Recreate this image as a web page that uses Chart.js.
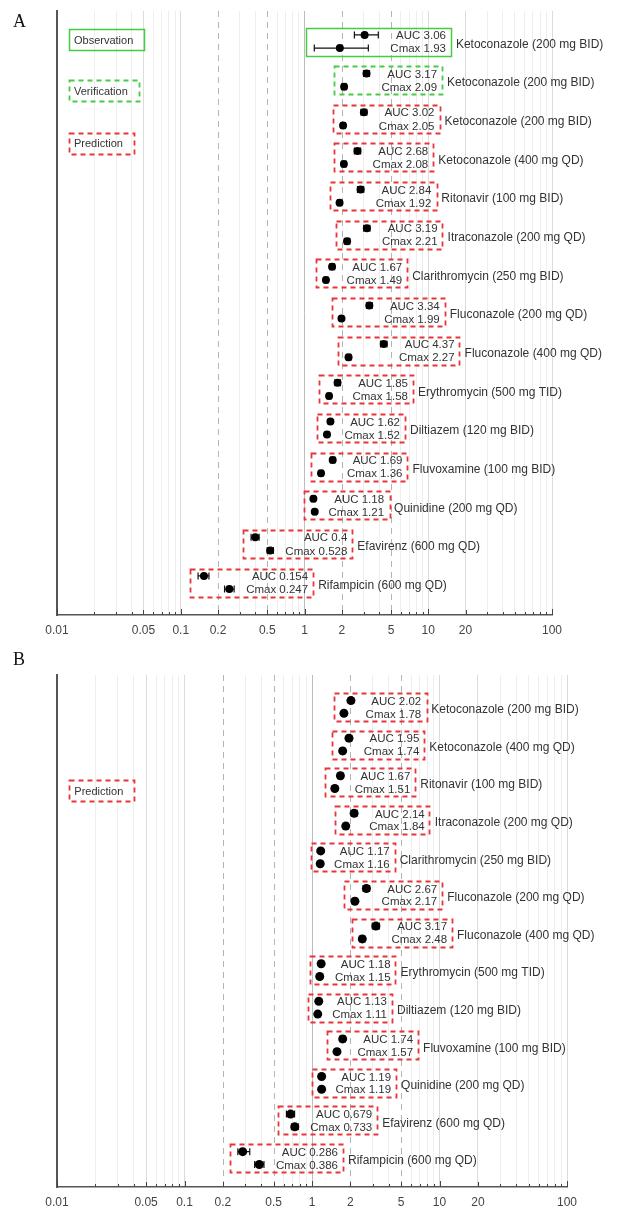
<!DOCTYPE html>
<html><head><meta charset="utf-8">
<script src="https://cdn.jsdelivr.net/npm/chart.js@4.4.0/dist/chart.umd.min.js"></script>
<style>
html,body{margin:0;padding:0;background:#fff;}
#wrap{position:relative;width:624px;height:1210px;background:#fff;}
#cA{position:absolute;left:0;top:0;}
#cB{position:absolute;left:0;top:640px;}
</style></head><body>
<div id="wrap"><canvas id="cA" width="624" height="640"></canvas><canvas id="cB" width="624" height="570"></canvas></div>
<script>
// ---------- Panel A data ----------
const drugsA = ['Ketoconazole (200 mg BID)','Ketoconazole (200 mg BID)','Ketoconazole (200 mg BID)','Ketoconazole (400 mg QD)','Ritonavir (100 mg BID)','Itraconazole (200 mg QD)','Clarithromycin (250 mg BID)','Fluconazole (200 mg QD)','Fluconazole (400 mg QD)','Erythromycin (500 mg TID)','Diltiazem (120 mg BID)','Fluvoxamine (100 mg BID)','Quinidine (200 mg QD)','Efavirenz (600 mg QD)','Rifampicin (600 mg QD)'];
const roleA = ['obs','ver','pred','pred','pred','pred','pred','pred','pred','pred','pred','pred','pred','pred','pred'];
const aucA    = [3.06, 3.17, 3.02, 2.68, 2.84, 3.19, 1.67, 3.34, 4.37, 1.85, 1.62, 1.69, 1.18, 0.4, 0.154];
const aucLoA  = [2.53, 3.00, 2.86, 2.53, 2.68, 3.01, 1.60, 3.17, 4.12, 1.76, 1.56, 1.62, 1.14, 0.37, 0.138];
const aucHiA  = [3.95, 3.35, 3.19, 2.84, 3.01, 3.38, 1.75, 3.52, 4.64, 1.95, 1.68, 1.76, 1.22, 0.43, 0.169];
const cmaxA   = [1.93, 2.09, 2.05, 2.08, 1.92, 2.21, 1.49, 1.99, 2.27, 1.58, 1.52, 1.36, 1.21, 0.528, 0.247];
const cmaxLoA = [1.20, 2.00, 1.97, 2.00, 1.85, 2.10, 1.44, 1.92, 2.18, 1.52, 1.47, 1.31, 1.17, 0.50, 0.226];
const cmaxHiA = [3.28, 2.18, 2.14, 2.17, 2.00, 2.32, 1.55, 2.06, 2.37, 1.64, 1.57, 1.41, 1.25, 0.56, 0.270];

// ---------- Panel B data ----------
const drugsB = ['Ketoconazole (200 mg BID)','Ketoconazole (400 mg QD)','Ritonavir (100 mg BID)','Itraconazole (200 mg QD)','Clarithromycin (250 mg BID)','Fluconazole (200 mg QD)','Fluconazole (400 mg QD)','Erythromycin (500 mg TID)','Diltiazem (120 mg BID)','Fluvoxamine (100 mg BID)','Quinidine (200 mg QD)','Efavirenz (600 mg QD)','Rifampicin (600 mg QD)'];
const roleB = ['pred','pred','pred','pred','pred','pred','pred','pred','pred','pred','pred','pred','pred'];
const aucB    = [2.02, 1.95, 1.67, 2.14, 1.17, 2.67, 3.17, 1.18, 1.13, 1.74, 1.19, 0.679, 0.286];
const aucLoB  = [1.93, 1.86, 1.60, 2.03, 1.14, 2.52, 2.97, 1.14, 1.10, 1.66, 1.15, 0.63, 0.262];
const aucHiB  = [2.12, 2.05, 1.74, 2.26, 1.20, 2.83, 3.38, 1.22, 1.16, 1.83, 1.23, 0.73, 0.325];
const cmaxB   = [1.78, 1.74, 1.51, 1.84, 1.16, 2.17, 2.48, 1.15, 1.11, 1.57, 1.19, 0.733, 0.386];
const cmaxLoB = [1.71, 1.67, 1.46, 1.76, 1.13, 2.07, 2.36, 1.12, 1.08, 1.51, 1.15, 0.69, 0.355];
const cmaxHiB = [1.85, 1.81, 1.56, 1.92, 1.19, 2.27, 2.60, 1.18, 1.14, 1.63, 1.23, 0.78, 0.420];

// ---------- axis ----------
const tickLabels = [0.01, 0.05, 0.1, 0.2, 0.5, 1, 2, 5, 10, 20, 100];
const refLines = [0.2, 0.5, 2, 5];
const decades = [0.01, 0.1, 1, 10];
const tickValues = [];
decades.forEach(d => { for (let m = 1; m <= 9; m++) tickValues.push(+(m * d).toPrecision(3)); });
tickValues.push(100);

// legend annotations: [text, role]
const legendA = [['Observation','obs'],['Verification','ver'],['Prediction','pred']];
const legendB = [['Prediction','pred']];

const RED = '#e8353b', GREEN = '#45cc45';
const FONT = '"Liberation Sans", Arial, sans-serif';

function styleBox(ctx, role) {
  if (role === 'obs') { ctx.strokeStyle = GREEN; ctx.setLineDash([]); ctx.lineWidth = 1.5; }
  else if (role === 'ver') { ctx.strokeStyle = GREEN; ctx.setLineDash([5, 4]); ctx.lineWidth = 1.8; }
  else { ctx.strokeStyle = RED; ctx.setLineDash([5, 4]); ctx.lineWidth = 1.8; }
}

function forestPlugin(P) {
  return {
    id: 'forest' + P.id,
    beforeDatasetsDraw(chart) {
      const { ctx, chartArea: a, scales: { x, y } } = chart;
      ctx.save();
      // dashed reference lines
      ctx.strokeStyle = '#b4b4b4'; ctx.lineWidth = 1; ctx.setLineDash([6, 5]);
      refLines.forEach(v => {
        const px = Math.round(x.getPixelForValue(v)) + 0.5;
        ctx.beginPath(); ctx.moveTo(px, a.top); ctx.lineTo(px, a.bottom); ctx.stroke();
      });
      ctx.setLineDash([]);
      // error bars
      ctx.strokeStyle = '#111'; ctx.lineWidth = 1.2;
      const bar = (lo, hi, yy) => {
        const x1 = x.getPixelForValue(lo), x2 = x.getPixelForValue(hi);
        ctx.beginPath();
        ctx.moveTo(x1, yy); ctx.lineTo(x2, yy);
        ctx.moveTo(x1, yy - 3.5); ctx.lineTo(x1, yy + 3.5);
        ctx.moveTo(x2, yy - 3.5); ctx.lineTo(x2, yy + 3.5);
        ctx.stroke();
      };
      P.drugs.forEach((d, i) => {
        bar(P.aucLo[i], P.aucHi[i], y.getPixelForValue(i - P.off));
        bar(P.cmaxLo[i], P.cmaxHi[i], y.getPixelForValue(i + P.off));
      });
      ctx.restore();
    },
    afterDatasetsDraw(chart) {
      const { ctx, chartArea: a, scales: { x, y } } = chart;
      ctx.save();
      // inward tick marks on x axis
      ctx.strokeStyle = '#444'; ctx.lineWidth = 1;
      tickValues.forEach(v => {
        const px = Math.round(x.getPixelForValue(v)) + 0.5;
        const len = decades.includes(v) || v === 100 ? 6 : (tickLabels.includes(v) ? 5 : 3);
        ctx.beginPath(); ctx.moveTo(px, a.bottom); ctx.lineTo(px, a.bottom - len); ctx.stroke();
      });
      // boxes + texts
      P.drugs.forEach((d, i) => {
        const yc = y.getPixelForValue(i);
        const yA = y.getPixelForValue(i - P.off), yC = y.getPixelForValue(i + P.off);
        const lo = Math.min(x.getPixelForValue(P.aucLo[i]), x.getPixelForValue(P.cmaxLo[i]));
        const hi = Math.max(x.getPixelForValue(P.aucHi[i]), x.getPixelForValue(P.cmaxHi[i]));
        ctx.font = '11.5px ' + FONT;
        const t1 = 'AUC ' + P.auc[i], t2 = 'Cmax ' + P.cmax[i];
        const w = Math.max(ctx.measureText(t1).width, ctx.measureText(t2).width);
        const tl = hi + 12, tr = tl + w;
        ctx.fillStyle = '#333'; ctx.textAlign = 'right'; ctx.textBaseline = 'middle';
        ctx.fillText(t1, tr, yA + 1);
        ctx.fillText(t2, tr, yC + 1);
        styleBox(ctx, P.role[i]);
        const bl = lo - 8, br = tr + 5;
        ctx.strokeRect(Math.round(bl) + 0.5, Math.round(yc - 14) + 0.5, Math.round(br - bl), 28);
        ctx.setLineDash([]);
        ctx.font = '12px ' + FONT; ctx.textAlign = 'left'; ctx.fillStyle = '#333';
        ctx.fillText(d, br + 5, yc + 3);
      });
      // legend annotation boxes
      P.legend.forEach((lg, k) => {
        const lx = x.getPixelForValue(0.0125);
        const ly = y.getPixelForValue(P.legendY[k]);
        ctx.font = '11px ' + FONT;
        const w = ctx.measureText(lg[0]).width;
        ctx.fillStyle = '#333'; ctx.textAlign = 'left'; ctx.textBaseline = 'middle';
        ctx.fillText(lg[0], lx + 5, ly + 1);
        styleBox(ctx, lg[1]);
        ctx.strokeRect(Math.round(lx) + 0.5, Math.round(ly - 10.5) + 0.5, Math.round(w + 16), 21);
        ctx.setLineDash([]);
      });
      // panel letter
      ctx.font = '18px "Liberation Serif", "Times New Roman", serif';
      ctx.fillStyle = '#111'; ctx.textAlign = 'left'; ctx.textBaseline = 'middle';
      ctx.fillText(P.letter, 13, P.letterY);
      ctx.restore();
    }
  };
}

function makeChart(canvasId, P) {
  const datasets = [
    { label: 'AUC ratio', data: P.auc.map((v, i) => ({ x: v, y: i - P.off })) },
    { label: 'Cmax ratio', data: P.cmax.map((v, i) => ({ x: v, y: i + P.off })) }
  ].map(ds => Object.assign(ds, { backgroundColor: '#000', borderColor: '#000', pointRadius: P.r, borderWidth: 0, pointHoverRadius: P.r }));
  return new Chart(document.getElementById(canvasId), {
    type: 'scatter',
    data: { datasets },
    options: {
      responsive: false, animation: false, devicePixelRatio: 1,
      layout: { padding: { left: 57, right: P.padRight, top: P.padTop, bottom: 0 } },
      plugins: { legend: { display: false }, tooltip: { enabled: false } },
      scales: {
        x: {
          type: 'logarithmic', min: 0.01, max: 100,
          afterBuildTicks: s => { s.ticks = tickValues.map(v => ({ value: v })); },
          afterFit: s => { s.height = P.axisH; },
          ticks: {
            autoSkip: false, maxRotation: 0, minRotation: 0, padding: 8, color: '#444',
            font: { family: FONT, size: 12 },
            callback: v => tickLabels.includes(v) ? String(v) : ''
          },
          grid: {
            drawTicks: false, lineWidth: 1,
            color: c => {
              const v = c.tick && c.tick.value;
              if (refLines.includes(v)) return 'rgba(0,0,0,0)';
              if (v === 1) return '#bdbdbd';
              if (tickLabels.includes(v)) return '#dcdcdc';
              return '#eeeeee';
            }
          },
          border: { display: true, color: '#555', width: 1.5 }
        },
        y: {
          type: 'linear', reverse: true, min: P.yMin, max: P.yMax,
          ticks: { display: false }, grid: { display: false, drawTicks: false },
          border: { display: true, color: '#555', width: 2 },
          afterFit: s => { s.width = 0; }
        }
      }
    },
    plugins: [forestPlugin(P)]
  });
}

makeChart('cA', {
  id: 'A', drugs: drugsA, role: roleA, auc: aucA, aucLo: aucLoA, aucHi: aucHiA,
  cmax: cmaxA, cmaxLo: cmaxLoA, cmaxHi: cmaxHiA, off: 0.17, r: 4,
  yMin: -0.79, yMax: 14.84, padRight: 72, padTop: 11, axisH: 25,
  legend: legendA, legendY: [-0.04, 1.28, 2.63], letter: 'A', letterY: 22
});
makeChart('cB', {
  id: 'B', drugs: drugsB, role: roleB, auc: aucB, aucLo: aucLoB, aucHi: aucHiB,
  cmax: cmaxB, cmaxLo: cmaxLoB, cmaxHi: cmaxHiB, off: 0.17, r: 4.5,
  yMin: -0.85, yMax: 12.77, padRight: 57, padTop: 35, axisH: 23,
  legend: legendB, legendY: [2.23], letter: 'B', letterY: 20
});
</script>
</body></html>
